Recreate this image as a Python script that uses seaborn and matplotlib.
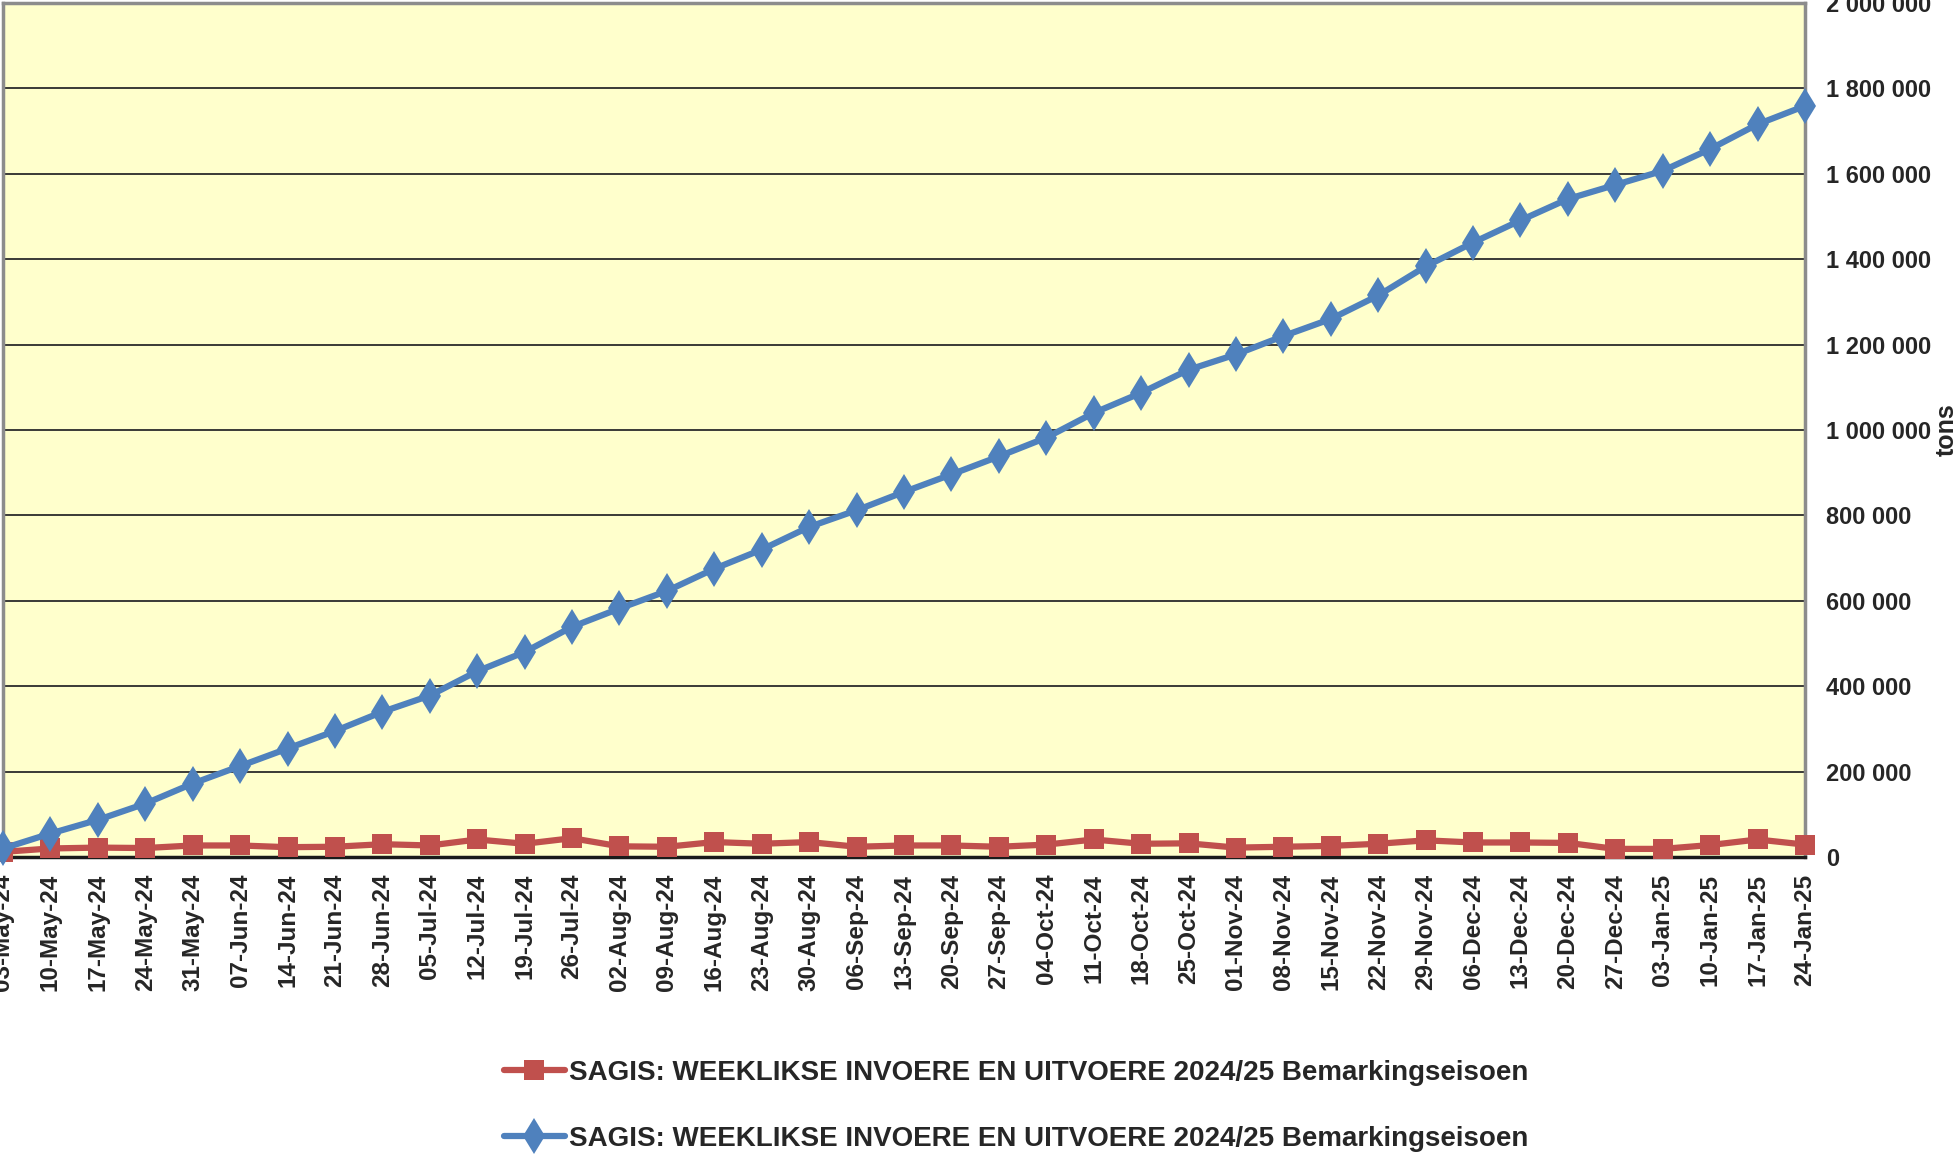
import numpy as np
import pandas as pd
import matplotlib
matplotlib.use('Agg')
import matplotlib.pyplot as plt
import seaborn as sns
from matplotlib.ticker import FuncFormatter, MultipleLocator

weeks = ['03-May-24', '10-May-24', '17-May-24', '24-May-24', '31-May-24', '07-Jun-24',
         '14-Jun-24', '21-Jun-24', '28-Jun-24', '05-Jul-24', '12-Jul-24', '19-Jul-24',
         '26-Jul-24', '02-Aug-24', '09-Aug-24', '16-Aug-24', '23-Aug-24', '30-Aug-24',
         '06-Sep-24', '13-Sep-24', '20-Sep-24', '27-Sep-24', '04-Oct-24', '11-Oct-24',
         '18-Oct-24', '25-Oct-24', '01-Nov-24', '08-Nov-24', '15-Nov-24', '22-Nov-24',
         '29-Nov-24', '06-Dec-24', '13-Dec-24', '20-Dec-24', '27-Dec-24', '03-Jan-25',
         '10-Jan-25', '17-Jan-25', '24-Jan-25']

weekly_tons = [12000, 20000, 22000, 21000, 27000, 27000, 23000, 24000, 30000, 27000,
               41000, 31000, 44000, 25000, 24000, 35000, 31000, 35000, 24000, 27000,
               27000, 24000, 29000, 41000, 31000, 32000, 22000, 24000, 26000, 31000,
               39000, 34000, 34000, 33000, 19000, 19000, 28000, 41000, 29000]

cumulative_tons = [20000, 55000, 87000, 125000, 172000, 213000, 254000, 295000, 340000,
                   378000, 435000, 480000, 539000, 582000, 623000, 675000, 720000, 773000,
                   812000, 855000, 896000, 938000, 982000, 1040000, 1087000, 1141000,
                   1177000, 1220000, 1260000, 1315000, 1383000, 1439000, 1491000, 1541000,
                   1574000, 1607000, 1658000, 1716000, 1759000]

series_label = 'SAGIS: WEEKLIKSE INVOERE EN UITVOERE 2024/25 Bemarkingseisoen'

sns.set_style('white')
plt.rcParams['font.family'] = ['Liberation Sans', 'DejaVu Sans']
plt.rcParams['font.weight'] = 'bold'

red = '#C0504D'
blue = '#4F81BD'

fig = plt.figure(figsize=(19.58, 11.59), dpi=100)
ax = fig.add_axes([3 / 1958, 302 / 1159, 1802 / 1958, 854 / 1159])
ax.set_facecolor('#FFFFCC')

pos = np.arange(len(weeks))
sns.lineplot(x=pos, y=weekly_tons, ax=ax, color=red, lw=4.5, marker='s',
             markersize=15, markeredgewidth=0, label=series_label, clip_on=False, zorder=3)
sns.lineplot(x=pos, y=cumulative_tons, ax=ax, color=blue, lw=4.5, marker='d',
             markersize=18, markeredgewidth=0, label=series_label, clip_on=False, zorder=4)

ax.set_xlim(0, len(weeks) - 1)
ax.set_ylim(0, 2000000)
ax.yaxis.set_major_locator(MultipleLocator(200000))
ax.yaxis.set_major_formatter(FuncFormatter(lambda v, p: f'{int(v):,}'.replace(',', ' ')))
ax.yaxis.tick_right()
ax.grid(axis='y', color='#2b2b2b', lw=1.3)
ax.grid(axis='x', visible=False)
ax.set_axisbelow(True)

ax.set_xticks(pos)
ax.set_xticklabels(weeks, rotation=90, fontsize=17.5, fontweight='bold')
ax.tick_params(axis='x', length=0, pad=12)
ax.tick_params(axis='y', length=0, pad=15, labelsize=17)
for t in ax.get_yticklabels():
    t.set_fontweight('bold')

for side in ['left', 'right', 'top']:
    ax.spines[side].set_color('#8c8c8c')
    ax.spines[side].set_linewidth(2.5)
ax.spines['bottom'].set_color('#1a1a1a')
ax.spines['bottom'].set_linewidth(2.5)

ax.set_xlabel('')
fig.text(1947 / 1958, 1 - 430 / 1159, 'tons', rotation=90, ha='center', va='center',
         fontsize=18, fontweight='bold')

leg = ax.legend(loc='center', bbox_to_anchor=(1016 / 1958, 1 - 1106 / 1159),
                bbox_transform=fig.transFigure, ncol=1, frameon=False,
                prop={'size': 20, 'weight': 'bold'}, handlelength=2.2,
                handletextpad=0.15, labelspacing=1.45)

fig.savefig('out.png', dpi=100)
